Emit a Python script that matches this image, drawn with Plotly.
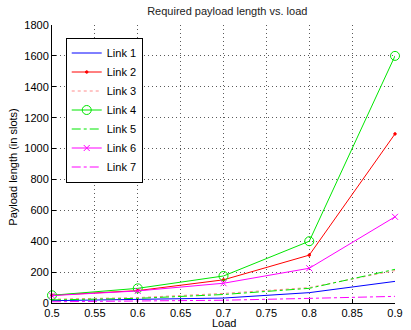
import plotly.graph_objects as go

load = [0.5, 0.6, 0.7, 0.8, 0.9]
link1 = [15, 22, 32, 67, 140]
link2 = [50, 80, 150, 310, 1095]
link3 = [25, 35, 62, 100, 210]
link4 = [50, 95, 175, 400, 1600]
link5 = [20, 30, 55, 95, 218]
link6 = [48, 78, 128, 225, 558]
link7 = [8, 12, 18, 30, 43]

x_ticks = [0.5, 0.55, 0.6, 0.65, 0.7, 0.75, 0.8, 0.85, 0.9]
x_labels = ["0.5", "0.55", "0.6", "0.65", "0.7", "0.75", "0.8", "0.85", "0.9"]
y_ticks = list(range(0, 1801, 200))

series = [
    ("Link 1", link1, "rgb(0,0,255)", "solid", None, 0),
    ("Link 2", link2, "rgb(255,0,0)", "solid", "circle", 2.5),
    ("Link 3", link3, "rgb(255,140,140)", "dot", None, 0),
    ("Link 4", link4, "rgb(0,230,0)", "solid", "circle-open", 9),
    ("Link 5", link5, "rgb(0,230,0)", "dashdot", None, 0),
    ("Link 6", link6, "rgb(255,0,255)", "solid", "x-thin-open", 6),
    ("Link 7", link7, "rgb(255,0,255)", "dashdot", None, 0),
]

fig = go.Figure()
for name, vals, color, dash, marker, msize in series:
    kw = dict(x=load, y=vals, name=name, cliponaxis=False,
              line=dict(color=color, width=1, dash=dash))
    if marker:
        kw["mode"] = "lines+markers"
        kw["marker"] = dict(symbol=marker, size=msize, color=color,
                            line=dict(color=color, width=1))
    else:
        kw["mode"] = "lines"
    fig.add_trace(go.Scatter(**kw))

font = "Liberation Sans, Arial, sans-serif"
grid = dict(showline=True, linecolor="black", linewidth=1, ticks="inside", ticklen=4,
            tickcolor="black", showgrid=True, gridcolor="rgb(90,90,90)", griddash="1px,3px",
            gridwidth=1, zeroline=False, mirror=False)
fig.update_layout(
    width=411, height=330,
    margin=dict(l=52, r=8, t=25, b=27),
    paper_bgcolor="white", plot_bgcolor="white",
    font=dict(family=font, size=11, color="black"),
    title=dict(text="Required payload length vs. load", x=0.553, xanchor="center",
               y=0.979, yanchor="top", font=dict(size=11, color="#222")),
    legend=dict(x=0.04, y=0.955, xanchor="left", yanchor="top",
                bordercolor="black", borderwidth=1, bgcolor="white",
                font=dict(size=11), tracegroupgap=0, itemwidth=30),
    showlegend=True,
    annotations=[
        dict(text="Load", xref="paper", yref="paper", x=0.5, y=-0.072,
             xanchor="center", yanchor="middle", showarrow=False, font=dict(size=11)),
        dict(text="Payload length (in slots)", xref="paper", yref="paper", x=-0.114, y=0.49,
             xanchor="center", yanchor="middle", textangle=-90, showarrow=False,
             font=dict(size=11)),
    ],
)
fig.update_xaxes(range=[0.5, 0.9], tickvals=x_ticks, ticktext=x_labels, **grid)
fig.update_yaxes(range=[0, 1800], tickvals=y_ticks, **grid)

fig.write_html("out.html", config={"displayModeBar": False},
               post_script="document.body.style.margin='0';document.body.style.overflow='hidden';")
